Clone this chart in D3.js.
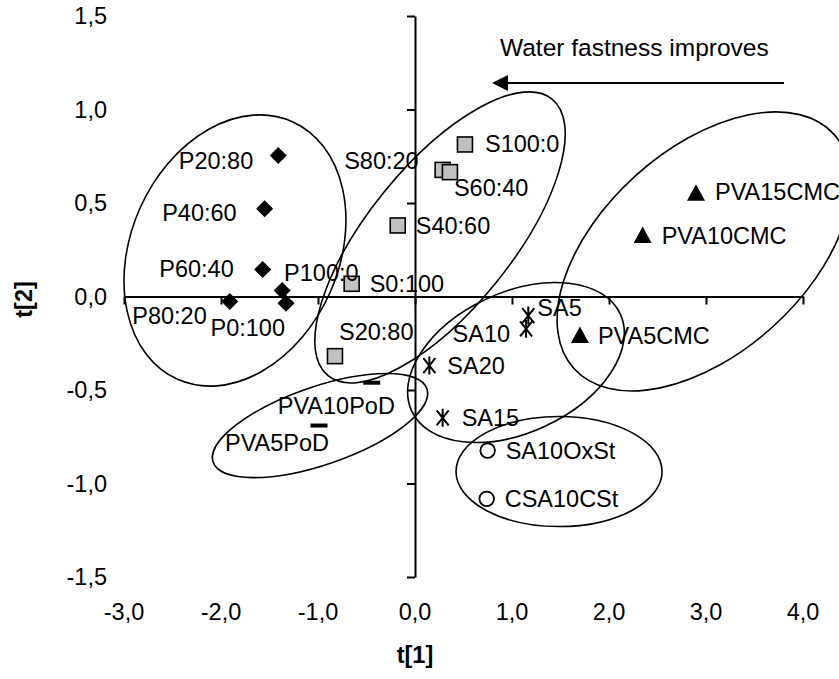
<!DOCTYPE html>
<html>
<head>
<meta charset="utf-8">
<script src="https://cdn.jsdelivr.net/npm/d3@7/dist/d3.min.js"></script>
<style>
  html, body { margin: 0; padding: 0; background: #fff; }
  svg { display: block; font-family: "Liberation Sans", Arial, sans-serif; }
</style>
</head>
<body>
<svg id="chart" width="839" height="679"></svg>
<script>
// ---------- data ----------
const xTicks = [-3, -2, -1, 0, 1, 2, 3, 4];
const xTickLabels = ["-3,0", "-2,0", "-1,0", "0,0", "1,0", "2,0", "3,0", "4,0"];
const yTicks = [-1.5, -1, -0.5, 0, 0.5, 1, 1.5];
const yTickLabels = ["-1,5", "-1,0", "-0,5", "0,0", "0,5", "1,0", "1,5"];

const pNames = ["P20:80", "P40:60", "P60:40", "P100:0", "P0:100", "P80:20"];
const pT1 = [-1.41, -1.55, -1.57, -1.37, -1.33, -1.91];
const pT2 = [0.754, 0.469, 0.144, 0.032, -0.036, -0.027];

const sNames = ["S100:0", "S80:20", "S60:40", "S40:60", "S0:100", "S20:80"];
const sT1 = [0.515, 0.285, 0.36, -0.178, -0.653, -0.825];
const sT2 = [0.813, 0.677, 0.665, 0.38, 0.068, -0.319];

const cmcNames = ["PVA15CMC", "PVA10CMC", "PVA5CMC"];
const cmcT1 = [2.897, 2.347, 1.70];
const cmcT2 = [0.552, 0.326, -0.209];

const saNames = ["SA5", "SA10", "SA20", "SA15"];
const saT1 = [1.168, 1.145, 0.148, 0.285];
const saT2 = [-0.102, -0.173, -0.369, -0.649];

const stNames = ["SA10OxSt", "CSA10CSt"];
const stT1 = [0.749, 0.739];
const stT2 = [-0.824, -1.082];

const podNames = ["PVA10PoD", "PVA5PoD"];
const podT1 = [-0.446, -0.99];
const podT2 = [-0.461, -0.69];

// group ellipses: centre in (t[1], t[2]), semi-axes in t[1] units, rotation in degrees
const ellNames = ["P", "S", "CMC", "SA", "PoD", "St"];
const ellCx = [-1.856, 0.258, 2.979, 1.041, -0.979, 1.485];
const ellCy = [0.246, 0.316, 0.241, -0.353, -0.690, -0.936];
const ellA = [1.072, 1.835, 1.804, 1.186, 1.165, 1.062];
const ellB = [1.454, 0.742, 1.052, 0.722, 0.402, 0.567];
const ellRot = [24, -51, -42, -25, -19, 0];

const titleX = "t[1]";
const titleY = "t[2]";
const arrowText = "Water fastness improves";

// ---------- layout ----------
const svg = d3.select("#chart");
const FS = 23.5;
const x = d3.scaleLinear().domain([-3, 4]).range([124, 803]);
const y = d3.scaleLinear().domain([-1.5, 1.5]).range([577, 16]);
const unit = x(1) - x(0);

// label placements [dx, dy(centre), anchor]
const place = {
  "P20:80": [-25, 5, "end"], "P40:60": [-28, 4, "end"], "P60:40": [-29, -1, "end"],
  "P100:0": [2, -18, "start"], "P0:100": [-1, 25, "end"], "P80:20": [-23, 14, "end"],
  "S100:0": [20, 0, "start"], "S80:20": [-24, -9, "end"], "S60:40": [4, 16, "start"],
  "S40:60": [18, 1, "start"], "S0:100": [18, 0, "start"], "S20:80": [4, -24, "start"],
  "PVA15CMC": [19, -1, "start"], "PVA10CMC": [19, 0, "start"], "PVA5CMC": [18, 0, "start"],
  "SA5": [9, -8, "start"], "SA10": [-16, 5, "end"], "SA20": [18, 0, "start"], "SA15": [19, 0, "start"],
  "SA10OxSt": [18, 0, "start"], "CSA10CSt": [18, 0, "start"],
  "PVA10PoD": [-94, 23, "start"], "PVA5PoD": [-94, 17, "start"]
};

// ---------- axes ----------
const xAxis = d3.axisBottom(x).tickValues(xTicks).tickSize(8).tickSizeOuter(0).tickFormat("");
const gx = svg.append("g").attr("transform", `translate(0,${y(0)})`).call(xAxis);
const yAxis = d3.axisLeft(y).tickValues(yTicks).tickSize(8).tickSizeOuter(0).tickFormat("");
const gy = svg.append("g").attr("transform", `translate(${x(0)},0)`).call(yAxis);
[gx, gy].forEach(g => {
  g.selectAll("path.domain").attr("stroke", "#000").attr("stroke-width", 2);
  g.selectAll(".tick line").attr("stroke", "#000").attr("stroke-width", 2);
});

svg.append("g").selectAll("text").data(yTicks).join("text")
  .attr("x", 107).attr("y", d => y(d) + 8)
  .attr("text-anchor", "end").attr("font-size", FS).attr("fill", "#000")
  .text((d, i) => yTickLabels[i]);
svg.append("g").selectAll("text").data(xTicks).join("text")
  .attr("x", d => x(d)).attr("y", 612 + 8)
  .attr("text-anchor", "middle").attr("font-size", FS).attr("fill", "#000")
  .text((d, i) => xTickLabels[i]);

svg.append("text").attr("x", x(0)).attr("y", 663)
  .attr("text-anchor", "middle").attr("font-size", FS).attr("font-weight", "bold").text(titleX);
svg.append("text").attr("transform", `translate(32,${y(0) + 3}) rotate(-90)`)
  .attr("text-anchor", "middle").attr("font-size", FS).attr("font-weight", "bold").text(titleY);

// ---------- ellipses ----------
svg.append("g").selectAll("ellipse").data(ellNames).join("ellipse")
  .attr("transform", (d, i) => `translate(${x(ellCx[i])},${y(ellCy[i])}) rotate(${ellRot[i]})`)
  .attr("rx", (d, i) => ellA[i] * unit).attr("ry", (d, i) => ellB[i] * unit)
  .attr("fill", "none").attr("stroke", "#000").attr("stroke-width", 1.6);

// ---------- arrow ----------
svg.append("defs").append("marker").attr("id", "ah")
  .attr("viewBox", "0 0 16 16").attr("refX", 0).attr("refY", 8)
  .attr("markerWidth", 16).attr("markerHeight", 16).attr("markerUnits", "userSpaceOnUse")
  .attr("orient", "auto-start-reverse")
  .append("path").attr("d", "M0,0 L16,8 L0,16 Z").attr("fill", "#000");
svg.append("line").attr("x1", 784).attr("y1", 83).attr("x2", 508).attr("y2", 83)
  .attr("stroke", "#000").attr("stroke-width", 2).attr("marker-end", "url(#ah)");
svg.append("text").attr("x", 500).attr("y", 56).attr("font-size", 24.5).text(arrowText);

// ---------- markers ----------
function series(names, t1, t2) {
  return names.map((n, i) => ({ name: n, px: x(t1[i]), py: y(t2[i]) }));
}
const pts = {
  P: series(pNames, pT1, pT2), S: series(sNames, sT1, sT2), CMC: series(cmcNames, cmcT1, cmcT2),
  SA: series(saNames, saT1, saT2), St: series(stNames, stT1, stT2), PoD: series(podNames, podT1, podT2)
};
const g = svg.append("g");
g.selectAll("path.dia").data(pts.P).join("path").attr("class", "dia")
  .attr("transform", d => `translate(${d.px},${d.py})`)
  .attr("d", "M0,-8.5 L8.5,0 L0,8.5 L-8.5,0 Z").attr("fill", "#000");
g.selectAll("rect.sq").data(pts.S).join("rect").attr("class", "sq")
  .attr("x", d => d.px - 7.5).attr("y", d => d.py - 7.5).attr("width", 15).attr("height", 15)
  .attr("fill", "#c0c0c0").attr("stroke", "#000").attr("stroke-width", 1.6);
g.selectAll("path.tri").data(pts.CMC).join("path").attr("class", "tri")
  .attr("transform", d => `translate(${d.px},${d.py})`)
  .attr("d", "M0,-9 L9,7.5 L-9,7.5 Z").attr("fill", "#000");
g.selectAll("path.star").data(pts.SA).join("path").attr("class", "star")
  .attr("transform", d => `translate(${d.px},${d.py})`)
  .attr("d", "M-6,-7.5 L6,7.5 M-6,7.5 L6,-7.5 M0,-9 L0,9").attr("fill", "none")
  .attr("stroke", "#000").attr("stroke-width", 2);
g.selectAll("circle.ci").data(pts.St).join("circle").attr("class", "ci")
  .attr("cx", d => d.px).attr("cy", d => d.py).attr("r", 7.3)
  .attr("fill", "#fff").attr("stroke", "#000").attr("stroke-width", 1.8);
g.selectAll("rect.dash").data(pts.PoD).join("rect").attr("class", "dash")
  .attr("x", d => d.px - 8.5).attr("y", d => d.py - 2).attr("width", 17).attr("height", 4)
  .attr("fill", "#000");

// ---------- labels ----------
const all = [].concat(pts.P, pts.S, pts.CMC, pts.SA, pts.St, pts.PoD);
svg.append("g").selectAll("text").data(all).join("text")
  .attr("x", d => d.px + place[d.name][0])
  .attr("y", d => d.py + place[d.name][1] + 8)
  .attr("text-anchor", d => place[d.name][2])
  .attr("font-size", FS).attr("fill", "#000")
  .text(d => d.name);
</script>
</body>
</html>
